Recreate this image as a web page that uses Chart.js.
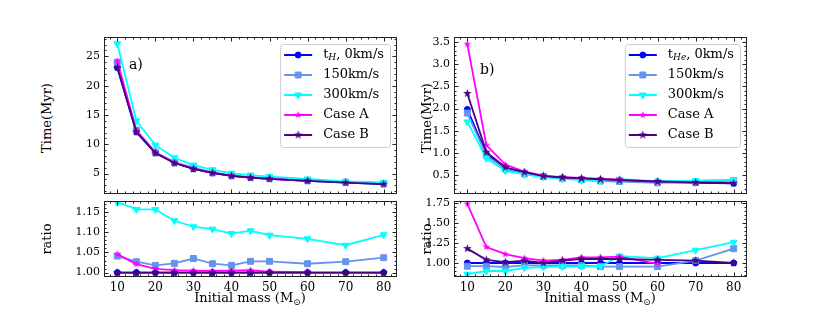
<!DOCTYPE html>
<html>
<head>
<meta charset="utf-8">
<script src="https://cdn.jsdelivr.net/npm/chart.js@4.4.0/dist/chart.umd.min.js"></script>
<style>
  body { margin: 0; background: #fff; }
  #fig { position: relative; width: 830px; height: 312px; overflow: hidden; font-family: 'DejaVu Serif', serif; color: #000; }
  .pane { position: absolute; }
  .lab { position: absolute; font-size: 13px; white-space: nowrap; }
  .ylab { transform: translate(-50%, -50%) rotate(-90deg); }
  .xlab { transform: translate(-50%, -50%); }
  sub { font-size: 9px; vertical-align: -3px; }
</style>
</head>
<body>
<div id="fig">
  <div class="pane" style="left:60px;top:31px"><canvas id="hTime" width="343" height="168"></canvas></div>
  <div class="pane" style="left:60px;top:195px"><canvas id="hRatio" width="343" height="106"></canvas></div>
  <div class="pane" style="left:410px;top:31px"><canvas id="heTime" width="343" height="168"></canvas></div>
  <div class="pane" style="left:410px;top:195px"><canvas id="heRatio" width="343" height="106"></canvas></div>

  <div class="lab ylab" style="left:46px;top:118px">Time(Myr)</div>
  <div class="lab ylab" style="left:46px;top:239px">ratio</div>
  <div class="lab ylab" style="left:426px;top:118px">Time(Myr)</div>
  <div class="lab ylab" style="left:426px;top:239px">ratio</div>
  <div class="lab xlab" style="left:250px;top:298px">Initial mass (M<sub>⊙</sub>)</div>
  <div class="lab xlab" style="left:600px;top:298px">Initial mass (M<sub>⊙</sub>)</div>
</div>

<script>
const FONT = "'DejaVu Serif', serif";
const TICK_SIZE = 11;

// initial masses (Msun)
const masses = [10, 15, 20, 25, 30, 35, 40, 45, 50, 60, 70, 80];
const massTicks = [10, 20, 30, 40, 50, 60, 70, 80];

// a) H-burning lifetime (Myr)
const tH_0 = [23.1, 12.1, 8.5, 6.8, 5.8, 5.1, 4.6, 4.3, 4.1, 3.75, 3.45, 3.2];
const tH_150 = [24.0, 12.4, 8.65, 6.95, 6.0, 5.2, 4.7, 4.4, 4.2, 3.83, 3.54, 3.32];
const tH_300 = [27.15, 14.0, 9.85, 7.7, 6.45, 5.65, 5.05, 4.75, 4.48, 4.07, 3.68, 3.5];
const tH_caseA = [24.15, 12.35, 8.58, 6.84, 5.83, 5.12, 4.62, 4.33, 4.11, 3.75];
const tH_caseB = [23.1, 12.1, 8.5, 6.8, 5.8, 5.1, 4.6, 4.3, 4.1, 3.75, 3.45, 3.2];

const rH_0 = [1, 1, 1, 1, 1, 1, 1, 1, 1, 1, 1, 1];
const rH_150 = [1.041, 1.027, 1.018, 1.023, 1.035, 1.022, 1.018, 1.028, 1.028, 1.022, 1.027, 1.037];
const rH_300 = [1.175, 1.157, 1.157, 1.129, 1.114, 1.108, 1.097, 1.104, 1.093, 1.084, 1.068, 1.094];
const rH_caseA = [1.046, 1.021, 1.009, 1.006, 1.005, 1.004, 1.005, 1.006, 1.002, 1.001];
const rH_caseB = [1.0, 1.0, 1.0, 1.0, 1.0, 1.0, 1.0, 1.0, 1.0, 1.0, 1.0, 1.0];

// b) He-burning lifetime (Myr)
const tHe_0 = [1.98, 0.98, 0.67, 0.55, 0.48, 0.44, 0.41, 0.39, 0.375, 0.35, 0.33, 0.32];
const tHe_150 = [1.90, 0.94, 0.64, 0.53, 0.47, 0.43, 0.40, 0.37, 0.36, 0.33, 0.34, 0.38];
const tHe_300 = [1.70, 0.88, 0.60, 0.52, 0.46, 0.42, 0.39, 0.37, 0.41, 0.37, 0.38, 0.40];
const tHe_caseA = [3.45, 1.18, 0.74, 0.58, 0.49, 0.46, 0.44, 0.42, 0.405, 0.35];
const tHe_caseB = [2.34, 1.02, 0.68, 0.57, 0.48, 0.45, 0.43, 0.41, 0.39, 0.36, 0.34, 0.32];

const rHe_0 = [1, 1, 1, 1, 1, 1, 1, 1, 1, 1, 1, 1];
const rHe_150 = [0.96, 0.96, 0.95, 0.97, 0.97, 0.97, 0.97, 0.955, 0.955, 0.955, 1.03, 1.18];
const rHe_300 = [0.86, 0.90, 0.90, 0.94, 0.95, 0.955, 0.955, 0.96, 1.085, 1.06, 1.16, 1.26];
const rHe_caseA = [1.74, 1.20, 1.11, 1.06, 1.03, 1.04, 1.07, 1.07, 1.08, 0.99];
const rHe_caseB = [1.18, 1.04, 1.01, 1.03, 1.00, 1.03, 1.05, 1.05, 1.05, 1.04, 1.03, 1.00];

// tick labels
const timeTicksH = [5, 10, 15, 20, 25];
const ratioTicksH = [1.00, 1.05, 1.10, 1.15];
const timeTicksHe = [0.5, 1.0, 1.5, 2.0, 2.5, 3.0, 3.5];
const ratioTicksHe = [1.00, 1.25, 1.50, 1.75];

const labels = ['0km/s', '150km/s', '300km/s', 'Case A', 'Case B'];
const colors = ['#0000ff', '#6495ed', '#00ffff', '#ff00ff', '#4b0082'];

function starMarker(r, color) {
  const c = document.createElement('canvas');
  const s = Math.ceil(r * 2 + 2);
  c.width = c.height = s;
  const g = c.getContext('2d');
  g.fillStyle = color;
  g.beginPath();
  for (let i = 0; i < 10; i++) {
    const a = -Math.PI / 2 + i * Math.PI / 5;
    const rr = i % 2 ? r * 0.4 : r;
    g.lineTo(s / 2 + rr * Math.cos(a), s / 2 + rr * Math.sin(a));
  }
  g.closePath();
  g.fill();
  return c;
}

const markers = [
  { pointStyle: 'circle', radius: 3, rotation: 0 },
  { pointStyle: 'rect', radius: 4.2, rotation: 0 },
  { pointStyle: 'triangle', radius: 4, rotation: 180 },
  { pointStyle: starMarker(4, colors[3]), radius: 4, rotation: 0 },
  { pointStyle: starMarker(4.5, colors[4]), radius: 4.5, rotation: 0 }
];

function makeSets(list) {
  return list.map((vals, i) => ({
    label: labels[i],
    data: vals.map((v, k) => ({ x: masses[k], y: v })),
    borderColor: colors[i],
    backgroundColor: colors[i],
    pointBackgroundColor: colors[i],
    pointBorderColor: colors[i],
    pointBorderWidth: 1,
    pointStyle: markers[i].pointStyle,
    pointRadius: markers[i].radius,
    pointRotation: markers[i].rotation,
    borderWidth: 1.8,
    order: 5 - i
  }));
}

// frame with inward major/minor ticks on all sides
const framePlugin = {
  id: 'frame',
  afterDatasetsDraw(chart, args, o) {
    const { ctx, chartArea: a } = chart;
    const x = chart.scales.x, y = chart.scales.y;
    const L = Math.round(a.left) + 0.5, R = Math.round(a.right) - 0.5;
    const T = Math.round(a.top) + 0.5, B = Math.round(a.bottom) - 0.5;
    ctx.save();
    ctx.strokeStyle = '#222';
    ctx.lineWidth = 1;
    ctx.strokeRect(L, T, R - L, B - T);
    const tick = (vals, len, horiz) => {
      ctx.beginPath();
      vals.forEach(v => {
        if (horiz) {
          const p = Math.round(x.getPixelForValue(v)) + 0.5;
          if (p < L || p > R) return;
          ctx.moveTo(p, B); ctx.lineTo(p, B - len);
          ctx.moveTo(p, T); ctx.lineTo(p, T + len);
        } else {
          const p = Math.round(y.getPixelForValue(v)) + 0.5;
          if (p < T || p > B) return;
          ctx.moveTo(L, p); ctx.lineTo(L + len, p);
          ctx.moveTo(R, p); ctx.lineTo(R - len, p);
        }
      });
      ctx.stroke();
    };
    const minors = (s, step) => {
      const out = [];
      for (let v = Math.ceil(s.min / step) * step; v <= s.max + 1e-9; v += step) out.push(v);
      return out;
    };
    tick(minors(x, o.xMinor), 2, true);
    tick(minors(y, o.yMinor), 2, false);
    tick(o.xTicks, 4, true);
    tick(o.yTicks, 4, false);
    ctx.restore();
  },
  afterDraw(chart, args, o) {
    if (!o.legend) return;
    const { ctx, chartArea: a } = chart;
    ctx.save();
    const sub = o.legend.sub;
    ctx.font = 'italic 9px ' + FONT;
    const subW = ctx.measureText(sub).width;
    ctx.font = '13px ' + FONT;
    const firstW = ctx.measureText('t').width + subW + ctx.measureText(', ' + labels[0]).width;
    let maxW = firstW;
    labels.slice(1).forEach(t => { maxW = Math.max(maxW, ctx.measureText(t).width); });
    const right = a.right - 7, top = a.top + 7;
    const left = right - (43 + maxW + 6);
    const h = 103;
    ctx.beginPath();
    ctx.roundRect(left + 0.5, top + 0.5, right - left, h, 3);
    ctx.fillStyle = 'rgba(255,255,255,0.8)';
    ctx.fill();
    ctx.strokeStyle = '#cccccc';
    ctx.lineWidth = 1;
    ctx.stroke();
    labels.forEach((t, i) => {
      const yy = top + 11 + i * 20;
      ctx.strokeStyle = colors[i];
      ctx.fillStyle = colors[i];
      ctx.lineWidth = 2;
      ctx.beginPath();
      ctx.moveTo(left + 4, yy);
      ctx.lineTo(left + 32, yy);
      ctx.stroke();
      ctx.lineWidth = 1;
      Chart.helpers.drawPoint(ctx, {
        pointStyle: markers[i].pointStyle, radius: markers[i].radius,
        rotation: markers[i].rotation, borderWidth: 1
      }, left + 18, yy);
      ctx.fillStyle = '#000';
      ctx.textBaseline = 'middle';
      let tx = left + 43;
      ctx.font = '13px ' + FONT;
      if (i === 0) {
        ctx.fillText('t', tx, yy);
        tx += ctx.measureText('t').width;
        ctx.font = 'italic 9px ' + FONT;
        ctx.fillText(sub, tx, yy + 3);
        tx += subW;
        ctx.font = '13px ' + FONT;
        ctx.fillText(', ' + t, tx, yy);
      } else {
        ctx.fillText(t, tx, yy);
      }
    });
    // panel letter
    ctx.font = '14px ' + FONT;
    ctx.fillStyle = '#000';
    ctx.textBaseline = 'middle';
    ctx.fillText(o.letter, a.left + o.letterDx, a.top + o.letterDy);
    ctx.restore();
  }
};

function panel(id, sets, yMin, yMax, yTicks, yDec, yMinor, showX, extra) {
  const xAxis = {
    type: 'linear', min: 6.5, max: 83.5,
    display: showX,
    grid: { display: false, drawTicks: false }, border: { display: false },
    afterBuildTicks: s => { s.ticks = massTicks.map(v => ({ value: v })); },
    ticks: { padding: 4, color: '#000', font: { family: FONT, size: 12 }, callback: v => String(v) },
    afterFit: s => { s.height = showX ? 24 : 0; s.paddingLeft = 0; s.paddingRight = 0; }
  };
  const yAxis = {
    type: 'linear', min: yMin, max: yMax,
    grid: { display: false, drawTicks: false }, border: { display: false },
    afterBuildTicks: s => { s.ticks = yTicks.map(v => ({ value: v })); },
    ticks: { padding: 4, color: '#000', font: { family: FONT, size: TICK_SIZE }, callback: v => v.toFixed(yDec) },
    afterFit: s => { s.width = 44; s.paddingTop = 0; s.paddingBottom = 0; }
  };
  return new Chart(document.getElementById(id), {
    type: 'line',
    data: { datasets: makeSets(sets) },
    options: {
      responsive: false, animation: false, devicePixelRatio: 1,
      layout: { padding: { top: 6, right: 6, left: 0, bottom: 0 } },
      scales: { x: xAxis, y: yAxis },
      plugins: {
        legend: { display: false }, tooltip: { enabled: false },
        frame: Object.assign({ xTicks: massTicks, yTicks: yTicks, xMinor: 2, yMinor: yMinor }, extra)
      }
    },
    plugins: [framePlugin]
  });
}

panel('hTime', [tH_0, tH_150, tH_300, tH_caseA, tH_caseB], 1.6, 28.3, timeTicksH, 0, 1, false,
  { legend: { sub: 'H' }, letter: 'a)', letterDx: 25, letterDy: 28 });
panel('hRatio', [rH_0, rH_150, rH_300, rH_caseA, rH_caseB], 0.989, 1.178, ratioTicksH, 2, 0.01, true, {});
panel('heTime', [tHe_0, tHe_150, tHe_300, tHe_caseA, tHe_caseB], 0.09, 3.61, timeTicksHe, 1, 0.1, false,
  { legend: { sub: 'He' }, letter: 'b)', letterDx: 26, letterDy: 33 });
panel('heRatio', [rHe_0, rHe_150, rHe_300, rHe_caseA, rHe_caseB], 0.825, 1.775, ratioTicksHe, 2, 0.05, true, {});
</script>
</body>
</html>
